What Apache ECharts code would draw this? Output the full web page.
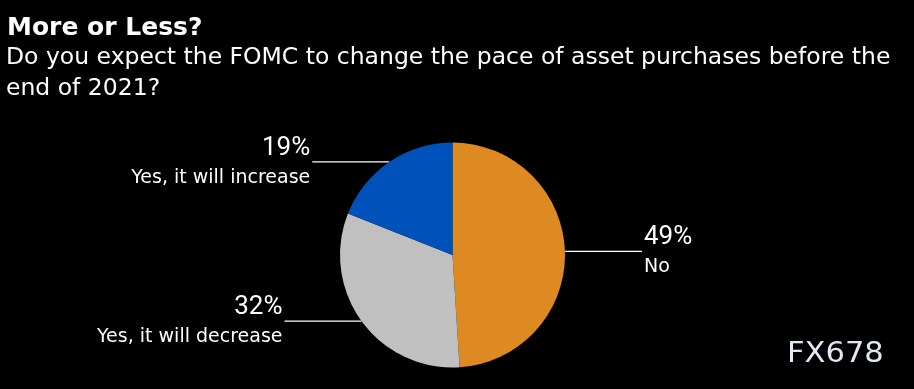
<!DOCTYPE html>
<html><head><meta charset="utf-8">
<style>html,body{margin:0;padding:0;background:#000;}#c{width:914px;height:389px;}</style>
<script src="https://cdn.jsdelivr.net/npm/echarts@6/dist/echarts.min.js"></script>
</head><body><div id="c"></div>
<script>
var categories = ['No', 'Yes, it will decrease', 'Yes, it will increase'];
var values = [49, 32, 19];
var colors = ['#DE8A22', '#C0C0C0', '#0052BA'];

var chart = echarts.init(document.getElementById('c'), null, {renderer: 'canvas'});
var FONT = '"DejaVu Sans", Verdana, sans-serif';
var PFONT = 'Roboto, "DejaVu Sans", sans-serif';
chart.setOption({
  backgroundColor: '#000',
  animation: false,
  title: [{
    text: 'More or Less?',
    left: 7, top: 13, padding: 0,
    textStyle: {color: '#fff', fontFamily: FONT, fontWeight: 'bold', fontSize: 25, lineHeight: 30}
  }, {
    text: 'Do you expect the FOMC to change the pace of asset purchases before the\nend of 2021?',
    left: 6, top: 42, padding: 0,
    textStyle: {color: '#fff', fontFamily: FONT, fontWeight: 'normal', fontSize: 23.5, lineHeight: 31}
  }],
  graphic: [{
    type: 'text', left: 787, top: 341, scaleX: 1.09,
    style: {text: 'FX678', fill: '#e0e9f2', font: '28px ' + FONT}
  }],
  series: [{
    type: 'pie',
    center: [452.5, 255],
    radius: [0, 112.5],
    startAngle: 90,
    clockwise: true,
    data: categories.map(function (c, i) {
      return {name: c, value: values[i], itemStyle: {color: colors[i]}};
    }),
    label: {
      show: true,
      position: 'outside',
      formatter: '{p|{c}%}\n{n|{b}}',
      color: '#fff',
      fontFamily: FONT,
      distanceToLabelLine: 2,
      padding: [2, 0, 0, 0],
      rich: {
        p: {fontSize: 26, lineHeight: 30, color: '#fff', fontFamily: PFONT},
        n: {fontSize: 19, lineHeight: 29, color: '#fff', fontFamily: FONT}
      }
    },
    labelLine: {
      show: true, length: 0, length2: 77,
      lineStyle: {color: '#fff', width: 1.3}
    },
    itemStyle: {borderWidth: 0}
  }]
});
</script></body></html>
